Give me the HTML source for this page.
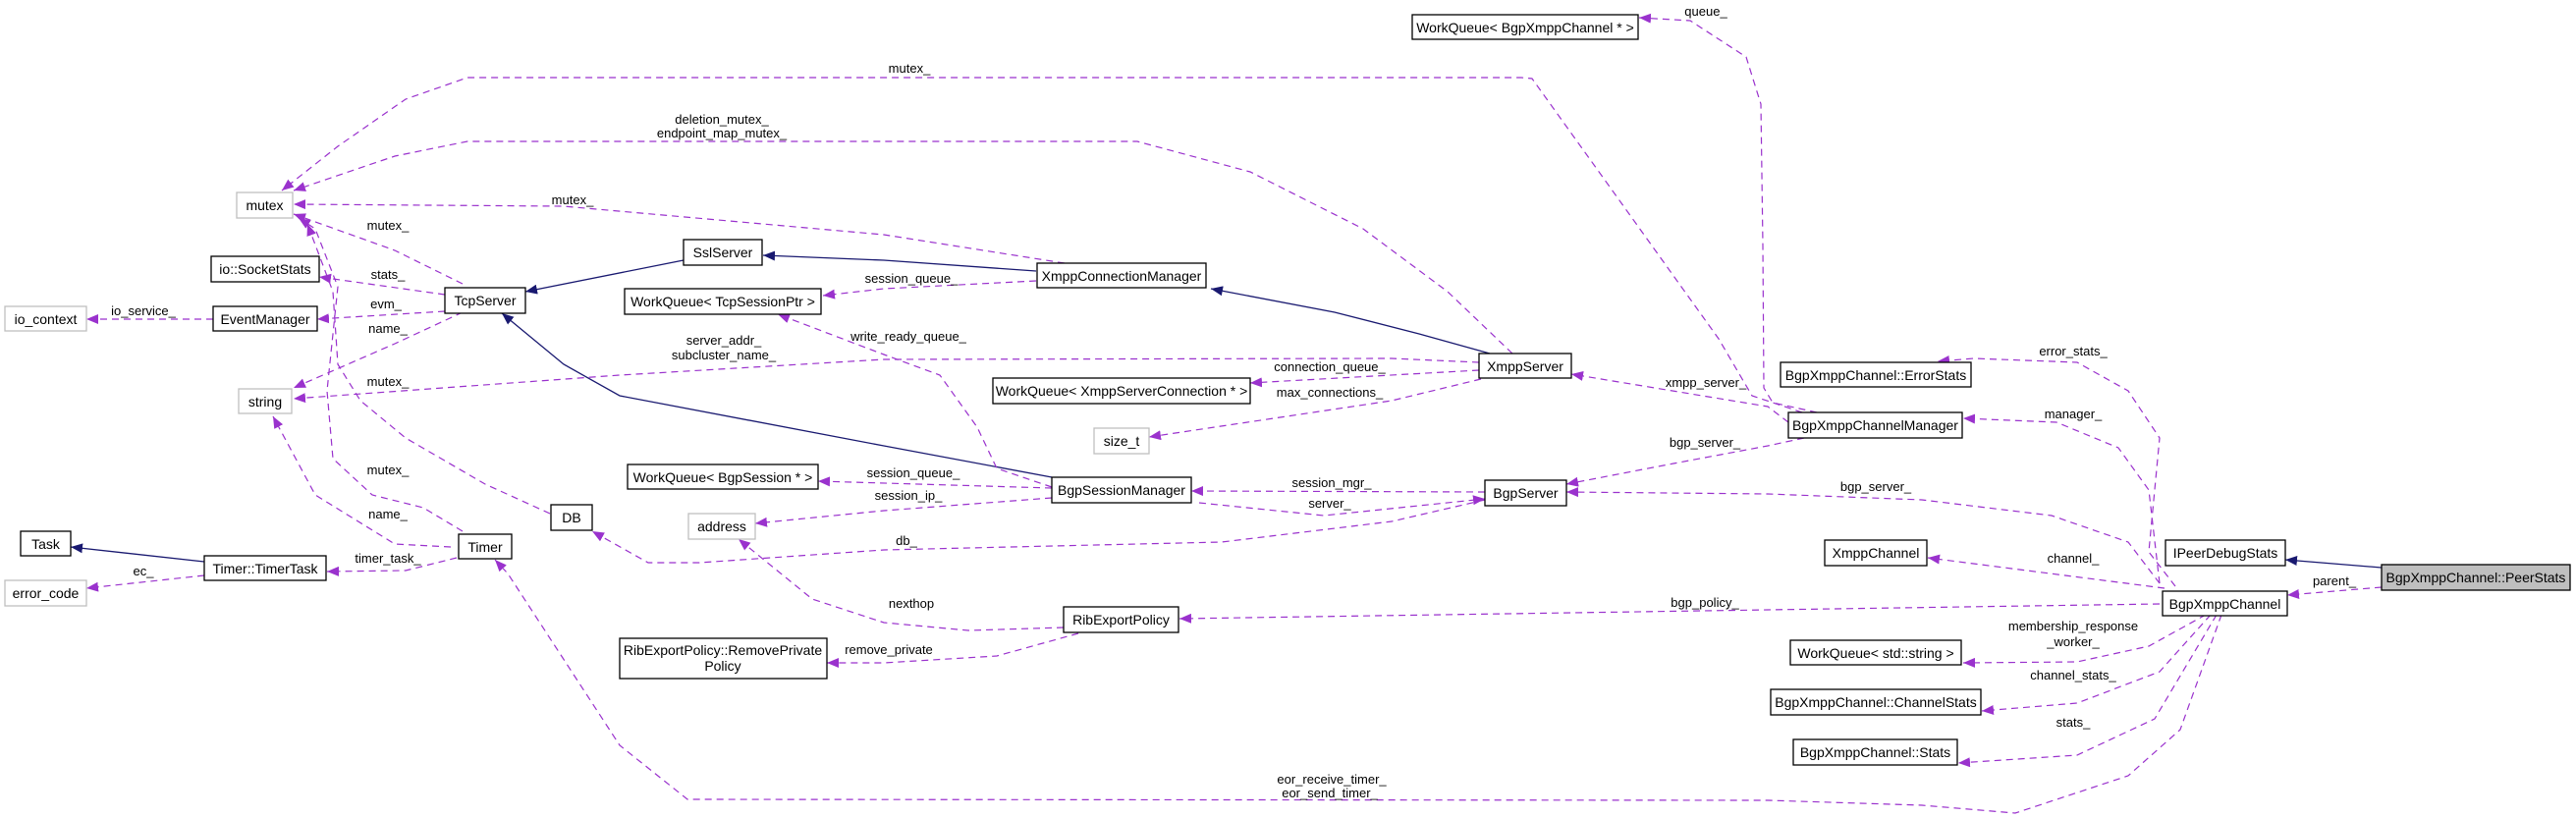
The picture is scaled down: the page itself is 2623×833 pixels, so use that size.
<!DOCTYPE html>
<html><head><meta charset="utf-8"><style>
html,body{margin:0;padding:0;background:#fff;}
svg{display:block;}
text{font-family:"Liberation Sans",Arial,sans-serif;}
.n{fill:#fff;stroke:#000;stroke-width:1.3;}
.g{fill:#fff;stroke:#bfbfbf;stroke-width:1.3;}
.nt{font-size:14px;text-anchor:middle;fill:#000;}
.l{font-size:13px;text-anchor:middle;fill:#000;}
.d{fill:none;stroke:#9a32cd;stroke-width:1.2;stroke-dasharray:7,5;marker-end:url(#ap);}
.s{fill:none;stroke:#191970;stroke-width:1.3;marker-end:url(#an);}
</style></head><body>
<svg width="2623" height="833" viewBox="0 0 2623 833" xmlns="http://www.w3.org/2000/svg">
<defs>
<marker id="ap" viewBox="0 0 12 10" refX="12" refY="5" markerWidth="12" markerHeight="10" markerUnits="userSpaceOnUse" orient="auto"><path d="M0,0L12,5L0,10z" fill="#9a32cd"/></marker>
<marker id="an" viewBox="0 0 12 10" refX="12" refY="5" markerWidth="12" markerHeight="10" markerUnits="userSpaceOnUse" orient="auto"><path d="M0,0L12,5L0,10z" fill="#191970"/></marker>
</defs>
<!-- edges -->
<path class="s" d="M2425,578L2327,570"/>
<path class="d" d="M2425,598L2329,606"/>
<path class="d" d="M2215,597L2188,562L2199,446L2167,398L2115,369L2010,365L1973,368"/>
<path class="d" d="M2199,594L2188,499L2157,456L2094,430L1999,426"/>
<path class="d" d="M2199,594L2167,552L2089,525L1957,509L1800,503L1595,501"/>
<path class="d" d="M2204,599L1963,568"/>
<path class="d" d="M2199,615L1800,621L1201,630"/>
<path class="d" d="M2246,626L2188,658L2115,674L1999,675"/>
<path class="d" d="M2251,626L2199,684L2115,716L2018,724"/>
<path class="d" d="M2257,626L2194,732L2115,769L1994,777"/>
<path class="d" d="M2262,626L2220,743L2167,790L2052,828L1957,820L1800,815L700,814L631,759L517,584L504,570"/>
<path class="d" d="M1850,420L1805,410L1796,395L1795,250L1793,106L1778,58L1721,21L1669,18"/>
<path class="d" d="M1835,420L1784,403L1750,345L1560,80L1549,79L476,79L413,101L344,149L287,194"/>
<path class="d" d="M1821,430L1800,414L1600,381"/>
<path class="d" d="M1837,446L1800,454L1704,472L1595,493"/>
<path class="s" d="M1517,360L1445,340L1359,318L1233,294"/>
<path class="d" d="M1540,360L1474,297L1388,233L1273,175L1158,144L476,144L402,159L299,194"/>
<path class="d" d="M1506,369L1417,365L900,366L631,382L299,406"/>
<path class="d" d="M1506,377L1273,390"/>
<path class="d" d="M1508,386L1417,408L1170,445"/>
<path class="s" d="M1055,276L900,265L777,260"/>
<path class="d" d="M1084,268L900,239L574,210L299,208"/>
<path class="d" d="M1055,286L900,294L838,301"/>
<path class="s" d="M696,265L535,297"/>
<path class="d" d="M471,289L402,255L299,218"/>
<path class="d" d="M453,300L325,282"/>
<path class="d" d="M453,317L323,325"/>
<path class="d" d="M217,325L88,325"/>
<path class="d" d="M471,318L402,350L299,395"/>
<path class="s" d="M1071,486L900,454L631,403L574,371L511,319"/>
<path class="d" d="M1071,496L1015,477L995,435L957,382L900,361L792,320"/>
<path class="d" d="M1071,497L833,490"/>
<path class="d" d="M1071,507L900,520L769,533"/>
<path class="d" d="M1221,512L1348,525L1512,508"/>
<path class="d" d="M1512,501L1213,500"/>
<path class="d" d="M560,523L494,493L413,446L367,408L344,371L339,297L313,228"/>
<path class="d" d="M471,541L431,517L379,504L339,467L333,398L344,292L321,233L304,222"/>
<path class="d" d="M1512,509L1417,531L1244,552L900,560L712,573L660,573L603,541"/>
<path class="d" d="M459,557L402,554L321,504L278,424"/>
<path class="d" d="M465,568L413,581L333,582"/>
<path class="s" d="M208,572L72,557"/>
<path class="d" d="M208,586L88,599"/>
<path class="d" d="M1083,639L986,642L900,634L827,610L752,549"/>
<path class="d" d="M1098,645L1015,668L900,675L842,675"/>
<!-- edge labels -->
<g class="l">
<text x="2377" y="596">parent_</text>
<text x="2111" y="362">error_stats_</text>
<text x="2111" y="426">manager_</text>
<text x="1910" y="500">bgp_server_</text>
<text x="2111" y="573">channel_</text>
<text x="1736" y="618">bgp_policy_</text>
<text x="2111" y="642">membership_response</text>
<text x="2111" y="658">_worker_</text>
<text x="2111" y="692">channel_stats_</text>
<text x="2111" y="740">stats_</text>
<text x="1356" y="798">eor_receive_timer_</text>
<text x="1354" y="812">eor_send_timer_</text>
<text x="1737" y="16">queue_</text>
<text x="926" y="74">mutex_</text>
<text x="1737" y="394">xmpp_server_</text>
<text x="1736" y="455">bgp_server_</text>
<text x="735" y="126">deletion_mutex_</text>
<text x="735" y="140">endpoint_map_mutex_</text>
<text x="737" y="351">server_addr_</text>
<text x="737" y="366">subcluster_name_</text>
<text x="1354" y="378">connection_queue_</text>
<text x="1354" y="404">max_connections_</text>
<text x="583" y="208">mutex_</text>
<text x="928" y="288">session_queue_</text>
<text x="395" y="234">mutex_</text>
<text x="395" y="284">stats_</text>
<text x="393" y="314">evm_</text>
<text x="146" y="321">io_service_</text>
<text x="395" y="339">name_</text>
<text x="925" y="347">write_ready_queue_</text>
<text x="930" y="486">session_queue_</text>
<text x="925" y="509">session_ip_</text>
<text x="1354" y="517">server_</text>
<text x="1356" y="496">session_mgr_</text>
<text x="395" y="393">mutex_</text>
<text x="395" y="483">mutex_</text>
<text x="923" y="555">db_</text>
<text x="395" y="528">name_</text>
<text x="395" y="573">timer_task_</text>
<text x="146" y="586">ec_</text>
<text x="928" y="619">nexthop</text>
<text x="905" y="666">remove_private</text>
</g>
<!-- nodes -->
<g>
<rect class="g" x="241" y="196" width="57" height="26"/><text class="nt" x="269.5" y="214">mutex</text>
<rect class="n" x="215" y="261" width="110" height="26"/><text class="nt" x="270" y="279">io::SocketStats</text>
<rect class="g" x="5" y="312" width="83" height="25"/><text class="nt" x="46.5" y="330">io_context</text>
<rect class="n" x="217" y="312" width="106" height="25"/><text class="nt" x="270" y="330">EventManager</text>
<rect class="n" x="453" y="293" width="82" height="26"/><text class="nt" x="494" y="311">TcpServer</text>
<rect class="n" x="696" y="244" width="80" height="26"/><text class="nt" x="736" y="262">SslServer</text>
<rect class="n" x="636" y="294" width="200" height="26"/><text class="nt" x="736" y="312">WorkQueue&lt; TcpSessionPtr &gt;</text>
<rect class="g" x="243" y="396" width="54" height="25"/><text class="nt" x="270" y="414">string</text>
<rect class="n" x="639" y="473" width="194" height="25"/><text class="nt" x="736" y="491">WorkQueue&lt; BgpSession * &gt;</text>
<rect class="n" x="561" y="514" width="42" height="26"/><text class="nt" x="582" y="532">DB</text>
<rect class="g" x="701" y="523" width="68" height="26"/><text class="nt" x="735" y="541">address</text>
<rect class="n" x="21" y="541" width="51" height="25"/><text class="nt" x="46.5" y="559">Task</text>
<rect class="n" x="208" y="566" width="124" height="25"/><text class="nt" x="270" y="584">Timer::TimerTask</text>
<rect class="g" x="5" y="591" width="83" height="26"/><text class="nt" x="46.5" y="609">error_code</text>
<rect class="n" x="467" y="544" width="54" height="25"/><text class="nt" x="494" y="562">Timer</text>
<rect class="n" x="631" y="650" width="211" height="41"/><text class="nt" x="736" y="667">RibExportPolicy::RemovePrivate</text><text class="nt" x="736" y="683">Policy</text>
<rect class="n" x="1438" y="15" width="230" height="25"/><text class="nt" x="1553" y="33">WorkQueue&lt; BgpXmppChannel * &gt;</text>
<rect class="n" x="1056" y="268" width="172" height="25"/><text class="nt" x="1142" y="286">XmppConnectionManager</text>
<rect class="n" x="1506" y="360" width="94" height="25"/><text class="nt" x="1553" y="378">XmppServer</text>
<rect class="n" x="1011" y="385" width="262" height="26"/><text class="nt" x="1142" y="403">WorkQueue&lt; XmppServerConnection * &gt;</text>
<rect class="g" x="1114" y="436" width="56" height="26"/><text class="nt" x="1142" y="454">size_t</text>
<rect class="n" x="1071" y="486" width="142" height="26"/><text class="nt" x="1142" y="504">BgpSessionManager</text>
<rect class="n" x="1512" y="489" width="83" height="26"/><text class="nt" x="1553.5" y="507">BgpServer</text>
<rect class="n" x="1083" y="618" width="117" height="26"/><text class="nt" x="1141.5" y="636">RibExportPolicy</text>
<rect class="n" x="1813" y="369" width="194" height="25"/><text class="nt" x="1910" y="387">BgpXmppChannel::ErrorStats</text>
<rect class="n" x="1821" y="420" width="177" height="26"/><text class="nt" x="1909.5" y="438">BgpXmppChannelManager</text>
<rect class="n" x="1858" y="550" width="104" height="26"/><text class="nt" x="1910" y="568">XmppChannel</text>
<rect class="n" x="2205" y="550" width="122" height="26"/><text class="nt" x="2266" y="568">IPeerDebugStats</text>
<rect x="2425" y="575" width="192" height="26" fill="#bfbfbf" stroke="#000" stroke-width="1.3"/><text class="nt" x="2521" y="593">BgpXmppChannel::PeerStats</text>
<rect class="n" x="2202" y="602" width="127" height="25"/><text class="nt" x="2265.5" y="620">BgpXmppChannel</text>
<rect class="n" x="1823" y="652" width="174" height="25"/><text class="nt" x="1910" y="670">WorkQueue&lt; std::string &gt;</text>
<rect class="n" x="1803" y="702" width="214" height="26"/><text class="nt" x="1910" y="720">BgpXmppChannel::ChannelStats</text>
<rect class="n" x="1826" y="753" width="167" height="26"/><text class="nt" x="1909.5" y="771">BgpXmppChannel::Stats</text>
</g>
</svg>
</body></html>
